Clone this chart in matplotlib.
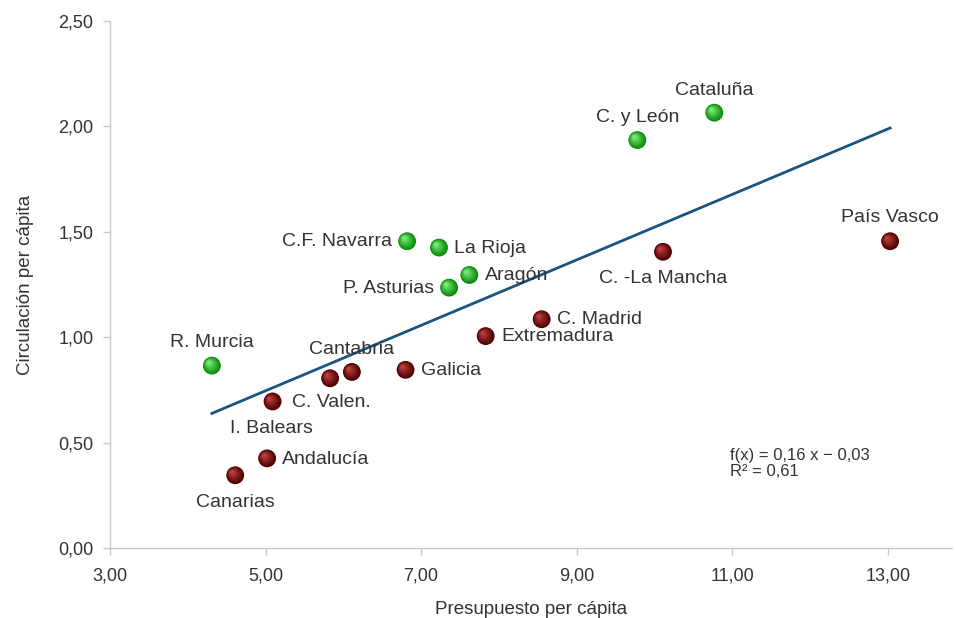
import numpy as np
import matplotlib
matplotlib.use("Agg")
import matplotlib.pyplot as plt
from matplotlib.transforms import ScaledTranslation

plt.rcParams["font.family"] = ["Liberation Sans", "DejaVu Sans"]

regions = ["Cataluña", "C. y León", "C.F. Navarra", "La Rioja", "Aragón",
           "P. Asturias", "R. Murcia", "País Vasco", "C. -La Mancha", "C. Madrid",
           "Extremadura", "Galicia", "Cantabria", "I. Balears", "C. Valen.",
           "Andalucía", "Canarias"]
presupuesto = [10.77, 9.78, 6.82, 7.23, 7.62, 7.36, 4.31, 13.03, 10.11, 8.55,
               7.83, 6.80, 6.11, 5.83, 5.09, 5.02, 4.61]
circulacion = [2.065, 1.935, 1.455, 1.425, 1.295, 1.235, 0.865, 1.455, 1.405, 1.085,
               1.005, 0.845, 0.835, 0.805, 0.695, 0.425, 0.345]
grupo = ["alto"] * 7 + ["bajo"] * 10

# label placement (offset in points, alignment)
label_pos = {
    "Cataluña": ((0, 16), "center"),
    "C. y León": ((0, 16), "center"),
    "C.F. Navarra": ((-11, -0.5), "right"),
    "La Rioja": ((11, -0.5), "left"),
    "Aragón": ((11, -0.5), "left"),
    "P. Asturias": ((-11, -0.5), "right"),
    "R. Murcia": ((0, 16.5), "center"),
    "País Vasco": ((0, 17), "center"),
    "C. -La Mancha": ((0, -19), "center"),
    "C. Madrid": ((11, -0.5), "left"),
    "Extremadura": ((11, -0.5), "left"),
    "Galicia": ((11, -0.5), "left"),
    "Cantabria": ((0, 16), "center"),
    "I. Balears": ((-42, -36), "center"),
    "C. Valen.": ((14, -0.5), "left"),
    "Andalucía": ((11, -0.5), "left"),
    "Canarias": ((0, -19.5), "center"),
}

x = np.array(presupuesto)
y = np.array(circulacion)
slope, intercept = np.polyfit(x, y, 1)
pred = slope * x + intercept
r2 = 1 - np.sum((y - pred) ** 2) / np.sum((y - y.mean()) ** 2)

fig = plt.figure(figsize=(9.55, 6.18), dpi=100)
ax = fig.add_axes([0.1152, 0.1133, 0.882, 0.8528])
ax.set_xlim(3, 13.83)
ax.set_ylim(0, 2.5)

text_col = "#333333"
axis_col = "#c8c8c8"
for side in ("top", "right"):
    ax.spines[side].set_visible(False)
for side in ("left", "bottom"):
    ax.spines[side].set_color(axis_col)
    ax.spines[side].set_linewidth(1.0)
ax.tick_params(colors=axis_col, labelcolor=text_col, labelsize=13, length=5, width=1)
ax.tick_params(axis="y", pad=7)
ax.tick_params(axis="x", pad=9)

xt = [3, 5, 7, 9, 11, 13]
yt = [0, 0.5, 1.0, 1.5, 2.0, 2.5]
ax.set_xticks(xt)
ax.set_yticks(yt)
ax.set_xticklabels([f"{v:.2f}".replace(".", ",") for v in xt])
ax.set_yticklabels([f"{v:.2f}".replace(".", ",") for v in yt])
ax.set_xlabel("Presupuesto per cápita", fontsize=13.5, color=text_col, labelpad=12)
ax.set_ylabel("Circulación per cápita", fontsize=13.5, color=text_col, labelpad=17)

# trend line over the data range
xs = np.array([x.min(), x.max()])
ax.plot(xs, slope * xs + intercept, color="#1a5580", lw=2, zorder=2)

# shaded spheres: stacked circles shifted toward the upper left
palettes = {
    "alto": ("#0b8a0b", "#7af07a"),
    "bajo": ("#4e0000", "#bd4040"),
}


def mix(c1, c2, t):
    a = np.array(matplotlib.colors.to_rgb(c1))
    b = np.array(matplotlib.colors.to_rgb(c2))
    return tuple(a + (b - a) * t)


for g in ("alto", "bajo"):
    idx = [i for i, gg in enumerate(grupo) if gg == g]
    gx = x[idx]
    gy = y[idx]
    dark, light = palettes[g]
    n = 9
    for k in range(n):
        t = k / (n - 1)
        size = 165 * (1 - 0.85 * t) ** 2
        shift = ScaledTranslation(-2.3 * t / 72, 2.3 * t / 72, fig.dpi_scale_trans)
        ax.scatter(gx, gy, s=size, color=mix(dark, light, t),
                   edgecolors="none", zorder=3 + k * 0.01,
                   transform=ax.transData + shift)

for name, xv, yv in zip(regions, x, y):
    (dx, dy), ha = label_pos[name]
    ax.annotate(name, (xv, yv), xytext=(dx, dy), textcoords="offset points",
                ha=ha, va="center", fontsize=14, color=text_col, zorder=5)

# regression equation and coefficient of determination
eq = f"f(x) = {slope:.2f} x − {abs(intercept):.2f}".replace(".", ",")
r2_txt = f"R² = {r2:.2f}".replace(".", ",")
ax.text(10.97, 0.441, eq, fontsize=12, color=text_col, ha="left", va="center")
ax.text(10.97, 0.365, r2_txt, fontsize=12, color=text_col, ha="left", va="center")

fig.savefig("out.png", dpi=100, facecolor="white")
